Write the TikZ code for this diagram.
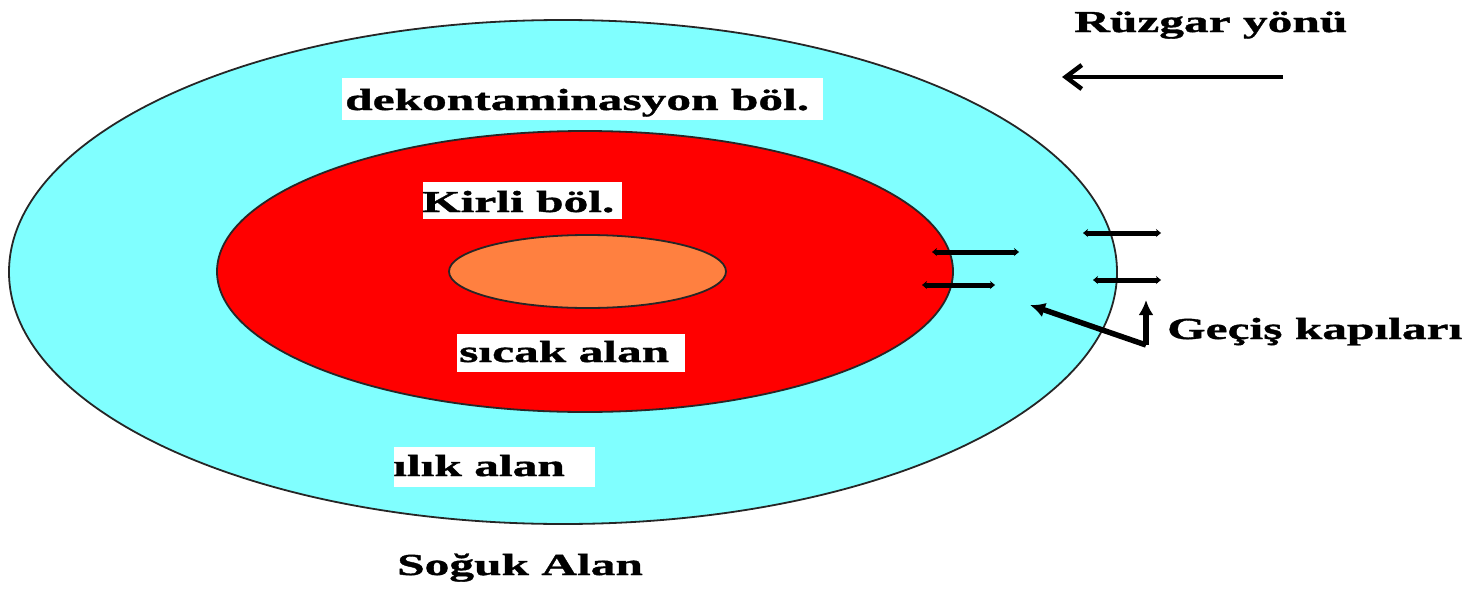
\documentclass[tikz,border=0pt]{standalone}
\usepackage{fontspec}
\setmainfont{Liberation Serif}
\newfontfamily\lblfont{Liberation Serif Bold}[FakeStretch=1.62,FakeBold=1.2]
\usetikzlibrary{shapes.geometric,arrows.meta}
\definecolor{zonecyan}{HTML}{80FFFF}
\definecolor{zonered}{HTML}{FF0000}
\definecolor{zoneorange}{HTML}{FF8040}
\begin{document}
\begin{tikzpicture}[x=1pt,y=-1pt,
  zone/.style={ellipse,draw=black!85,line width=1.8pt,inner sep=0pt},
  lbl/.style={font=\lblfont\fontsize{30.5}{31}\selectfont,inner sep=0pt,anchor=base west},
  wbox/.style={fill=white},
  gate/.style={line width=5pt,{Stealth[length=5pt,width=8pt]}-{Stealth[length=5pt,width=8pt]}},
  ptr/.style={line width=5.5pt,-{Latex[length=15pt,width=15pt]}},
  wind/.style={line width=4pt,-{Straight Barb[length=16pt,width=24pt,line width=4.5pt]}}]
\useasboundingbox (0,0) rectangle (1472,589);

% zones
\node[zone,fill=zonecyan,minimum width=1108pt,minimum height=504pt] (outer) at (563,272) {};
\node[zone,fill=zonered,minimum width=736pt,minimum height=281pt] (inner) at (585,271.5) {};
\node[zone,fill=zoneorange,minimum width=277pt,minimum height=73pt] (hot) at (587.5,271.5) {};

% white label boxes
\fill[wbox] (342,78) rectangle (823,120);
\fill[wbox] (423,182) rectangle (622,219);
\fill[wbox] (457,334) rectangle (685,372);
\fill[wbox] (394,447) rectangle (595,487);

% labels
\node[lbl] (tdekon) at (345,110) {dekontaminasyon böl.};
\node[lbl] (tkirli) at (422,212) {Kirli böl.};
\node[lbl] (tsicak) at (459,362) {sıcak alan};
\node[lbl] (tilik) at (393,476) {ılık alan};
\node[lbl] (tsoguk) at (397,575) {Soğuk Alan};
\node[lbl] (truzgar) at (1074,32) {Rüzgar yönü};
\node[lbl] (tgecis) at (1167,339) {Geçiş kapıları};

% wind direction arrow
\coordinate (wstart) at (1283,77);
\coordinate (wend) at (1062,77);
\draw[wind] (wstart) -- (wend);

% gates
\coordinate (g1a) at (932,252); \coordinate (g1b) at (1019,252);
\coordinate (g2a) at (922,285); \coordinate (g2b) at (995,285);
\coordinate (g3a) at (1083,233); \coordinate (g3b) at (1161,233);
\coordinate (g4a) at (1093,280); \coordinate (g4b) at (1161,280);
\draw[gate] (g1a) -- (g1b);
\draw[gate] (g2a) -- (g2b);
\draw[gate] (g3a) -- (g3b);
\draw[gate] (g4a) -- (g4b);

% pointer to gates
\coordinate (pcorner) at (1146,345);
\coordinate (ptipA) at (1030,305);
\coordinate (ptipB) at (1146,300);
\draw[ptr] (pcorner) -- (ptipA);
\draw[ptr] (pcorner) -- (ptipB);
\end{tikzpicture}
\end{document}
